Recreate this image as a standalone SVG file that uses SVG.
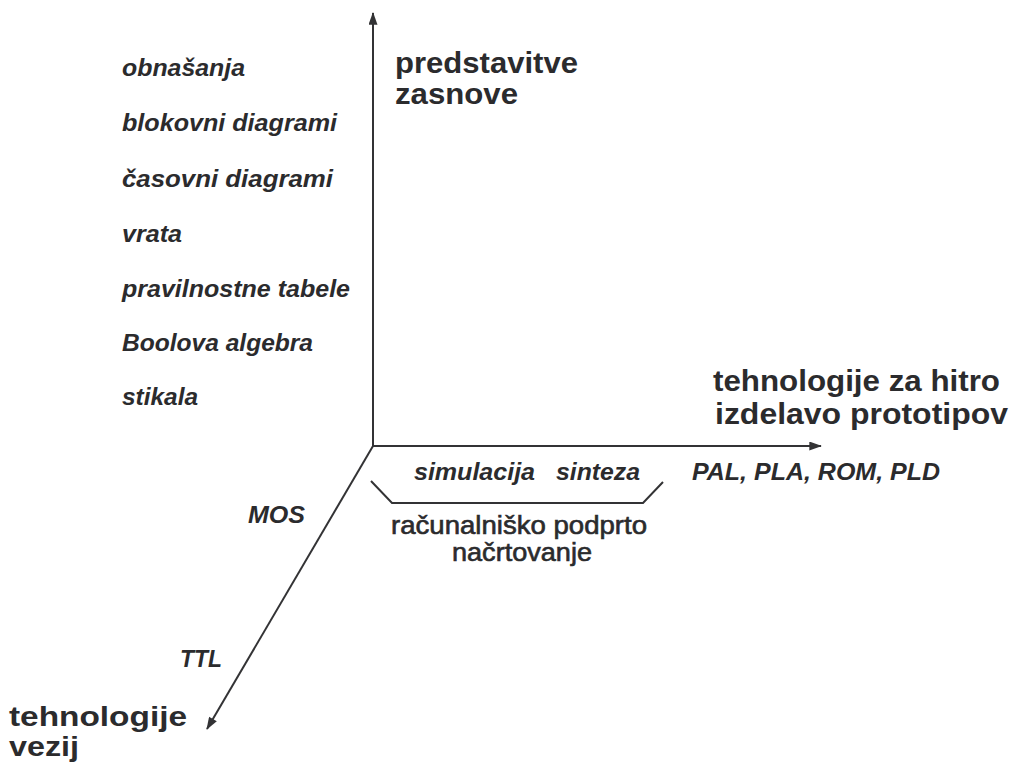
<svg xmlns="http://www.w3.org/2000/svg" width="1019" height="763" viewBox="0 0 1019 763">
  <style>
    text { font-family: "Liberation Sans", Arial, sans-serif; fill: #2b2b2d; }
    .item { font-size: 23px; font-weight: bold; font-style: italic; }
    .title { font-size: 30px; font-weight: bold; }
    .title.low { font-size: 28px; }
    .note { font-size: 25px; font-weight: normal; stroke: #2b2b2d; stroke-width: 0.6; }
    .axis { stroke: #333335; stroke-width: 2; fill: none; }
  </style>
  <defs>
    <marker id="head" viewBox="0 0 14 10" refX="13" refY="5" markerWidth="14" markerHeight="9" markerUnits="userSpaceOnUse" orient="auto">
      <path d="M0,0 L14,5 L0,10 Z" fill="#333335"/>
    </marker>
  </defs>

  <!-- three axes -->
  <g id="connectors">
    <line class="axis" x1="373" y1="446" x2="373" y2="13" marker-end="url(#head)"/>
    <line class="axis" x1="373" y1="446" x2="821" y2="446" marker-end="url(#head)"/>
    <line class="axis" x1="373" y1="446" x2="207" y2="729" marker-end="url(#head)"/>
    <!-- bracket grouping the CAD tools -->
    <polyline class="axis" points="371,481 392,503 643,503 663,482"/>
  </g>

  <!-- vertical axis: design representations -->
  <g id="axis-representations">
    <text class="title" x="395" y="73" textLength="183" lengthAdjust="spacingAndGlyphs">predstavitve</text>
    <text class="title" x="395" y="104" textLength="123" lengthAdjust="spacingAndGlyphs">zasnove</text>
  </g>
  <g id="representations">
    <text class="item" x="122" y="76" textLength="123" lengthAdjust="spacingAndGlyphs">obnašanja</text>
    <text class="item" x="122" y="131" textLength="215" lengthAdjust="spacingAndGlyphs">blokovni diagrami</text>
    <text class="item" x="122" y="187" textLength="211" lengthAdjust="spacingAndGlyphs">časovni diagrami</text>
    <text class="item" x="122" y="242" textLength="60" lengthAdjust="spacingAndGlyphs">vrata</text>
    <text class="item" x="122" y="297" textLength="228" lengthAdjust="spacingAndGlyphs">pravilnostne tabele</text>
    <text class="item" x="122" y="351" textLength="191" lengthAdjust="spacingAndGlyphs">Boolova algebra</text>
    <text class="item" x="122" y="405" textLength="76" lengthAdjust="spacingAndGlyphs">stikala</text>
  </g>

  <!-- horizontal axis: rapid prototyping technologies -->
  <g id="axis-prototyping">
    <text class="title" x="713" y="391" textLength="287" lengthAdjust="spacingAndGlyphs">tehnologije za hitro</text>
    <text class="title" x="715" y="424" textLength="293" lengthAdjust="spacingAndGlyphs">izdelavo prototipov</text>
  </g>
  <g id="devices">
    <text class="item" x="692" y="480" textLength="248" lengthAdjust="spacingAndGlyphs">PAL, PLA, ROM, PLD</text>
  </g>

  <!-- computer-aided design -->
  <g id="cad">
    <text class="item" x="414" y="480" textLength="121" lengthAdjust="spacingAndGlyphs">simulacija</text>
    <text class="item" x="556" y="480" textLength="84" lengthAdjust="spacingAndGlyphs">sinteza</text>
    <text class="note" x="519" y="534" text-anchor="middle" textLength="256" lengthAdjust="spacingAndGlyphs">računalniško podprto</text>
    <text class="note" x="522" y="561" text-anchor="middle" textLength="140" lengthAdjust="spacingAndGlyphs">načrtovanje</text>
  </g>

  <!-- diagonal axis: circuit technologies -->
  <g id="axis-circuits">
    <text class="title low" x="9" y="726" textLength="178" lengthAdjust="spacingAndGlyphs">tehnologije</text>
    <text class="title low" x="9" y="756" textLength="70" lengthAdjust="spacingAndGlyphs">vezij</text>
  </g>
  <g id="circuits">
    <text class="item" x="248" y="523" textLength="57" lengthAdjust="spacingAndGlyphs">MOS</text>
    <text class="item" x="180" y="667" textLength="42" lengthAdjust="spacingAndGlyphs">TTL</text>
  </g>
</svg>
